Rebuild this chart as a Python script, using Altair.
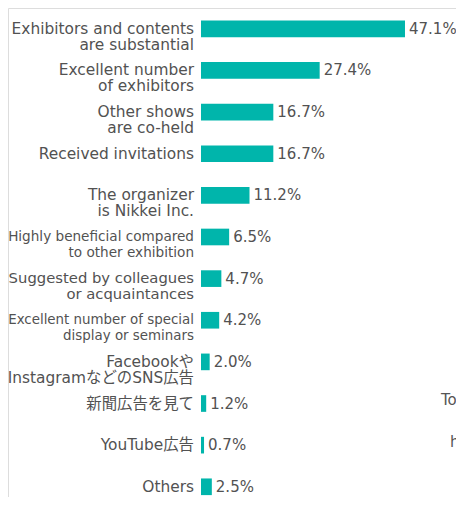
import altair as alt
import pandas as pd

categories = [
    "Exhibitors and contents\nare substantial",
    "Excellent number\nof exhibitors",
    "Other shows\nare co-held",
    "Received invitations",
    "The organizer\nis Nikkei Inc.",
    "Highly beneficial compared\nto other exhibition",
    "Suggested by colleagues\nor acquaintances",
    "Excellent number of special\ndisplay or seminars",
    "Facebookや\nInstagramなどのSNS広告",
    "新聞広告を見て",
    "YouTube広告",
    "Others",
]
values = [47.1, 27.4, 16.7, 16.7, 11.2, 6.5, 4.7, 4.2, 2.0, 1.2, 0.7, 2.5]
value_labels = ["47.1%", "27.4%", "16.7%", "16.7%", "11.2%", "6.5%",
                "4.7%", "4.2%", "2.0%", "1.2%", "0.7%", "2.5%"]
side_texts = ["To", "h"]

df = pd.DataFrame({"cat": categories, "value": values, "label": value_labels})

FONT = "DejaVu Sans, Noto Sans CJK JP"
TEXT_COLOR = "#525252"
BAR_COLOR = "#00b5ab"
W, H = 448, 489

# long labels are squeezed to fit the label column, as in the original
FONT_SIZE_EXPR = (
    "indexof(datum.cat, 'Highly') === 0 ? 13.6 : "
    "indexof(datum.cat, 'Excellent number of') === 0 ? 13.4 : "
    "indexof(datum.cat, 'Suggested') === 0 ? 14.8 : 15.4"
)

yenc = alt.Y("cat:N", sort=categories, axis=None,
             scale=alt.Scale(paddingInner=0.6, paddingOuter=0.3, range=[0, 499.6]))
xscale = alt.Scale(domain=[0, 100], range=[193, 626.1], nice=False)

base = alt.Chart(df)

labels = base.transform_calculate(fs=FONT_SIZE_EXPR).mark_text(
    align="right", baseline="middle", lineBreak="\n",
    lineHeight=16, color=TEXT_COLOR, font=FONT
).encode(
    y=yenc, x=alt.value(186), text="cat:N",
    size=alt.Size("fs:Q", scale=None, legend=None),
)

bars = base.mark_bar(color=BAR_COLOR).encode(
    y=yenc, x=alt.X("value:Q", axis=None, scale=xscale), x2=alt.datum(0)
)

vals = base.mark_text(
    align="left", baseline="middle", dx=4, fontSize=15, color=TEXT_COLOR, font=FONT
).encode(y=yenc, x=alt.X("value:Q", axis=None, scale=xscale), text="label:N")

to_txt = alt.Chart(pd.DataFrame({"t": [side_texts[0]]})).mark_text(
    align="left", baseline="middle", fontSize=15, color="#555555", font=FONT
).encode(x=alt.value(433), y=alt.value(392), text="t:N")
h_txt = alt.Chart(pd.DataFrame({"t": [side_texts[1]]})).mark_text(
    align="left", baseline="middle", fontSize=15, color="#555555", font=FONT
).encode(x=alt.value(442), y=alt.value(434), text="t:N")

chart = alt.layer(bars, labels, vals, to_txt, h_txt).properties(
    width=W, height=H, padding=0,
    autosize=alt.AutoSizeParams(type="none"),
).configure_view(stroke=None).configure(background="white")

chart.save("out.html", embed_options={"renderer": "svg", "actions": False})
